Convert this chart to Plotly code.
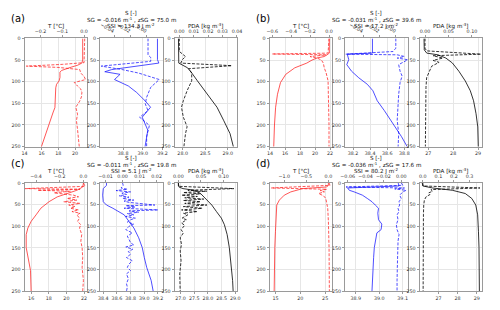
import plotly.graph_objects as go

# ================= DATA =================
# ---- panel (a) ----
a_T_z = [0, 50, 57, 62, 66, 70, 74, 78, 90, 98, 106, 114, 130, 160, 170, 200, 225, 250]
a_T = [20.9, 20.9, 20.8, 20.3, 19.6, 18.9, 18.4, 18.2, 18.2, 18.1, 17.8, 17.7, 17.65, 17.6, 17.4, 16.9, 16.45, 16.0]
a_dT_z = [0, 50, 56, 60, 64, 67, 72, 80, 88, 95, 102, 110, 117, 125, 135, 145, 159, 175, 190, 210, 230, 250]
a_dT = [0.003, 0.002, 0.0, -0.1, -0.265, -0.12, -0.02, -0.015, 0.0, 0.007, -0.045, -0.03, -0.015, -0.01, -0.012, -0.02, -0.038, -0.03, -0.035, -0.03, -0.025, -0.022]
a_S_z = [0, 49, 57, 72, 77, 83, 95, 110, 125, 144, 159, 182, 212, 250]
a_S = [39.149, 39.149, 39.163, 38.685, 38.614, 38.769, 38.713, 38.854, 38.938, 39.023, 39.079, 38.994, 39.051, 39.023]
a_dS_z = [0, 38, 44, 53, 64, 72, 80, 95, 113, 136, 151, 167, 182, 201, 227, 250]
a_dS = [0.0017, 0.0017, 0.005, 0.005, -0.0557, -0.03, -0.01, 0.0155, 0.005, 0.0, -0.0017, 0.0017, -0.0086, 0.0034, 0.0, 0.0]
a_P_z = [0, 57, 68, 77, 98, 129, 159, 189, 220, 250]
a_P = [27.906, 27.913, 28.109, 28.181, 28.326, 28.543, 28.761, 28.906, 29.05, 29.123]
a_dP_z = [0, 30, 42, 49, 57, 63, 70, 80, 98, 121, 144, 159, 182, 204, 220, 250]
a_dP = [0.0, 0.0, 0.0043, 0.0021, 0.001, 0.0364, 0.0064, 0.0086, 0.0086, 0.0054, 0.0028, 0.0015, 0.0028, 0.0054, 0.0043, 0.0032]

# ---- panel (b) ----
b_T_z = [0, 34, 38, 42, 45, 50, 57, 68, 83, 102, 129, 159, 200, 250]
b_T = [21.9, 21.9, 21.6, 21.2, 20.3, 19.6, 18.9, 17.3, 16.1, 15.4, 15.0, 14.75, 14.6, 14.5]
b_dT_z = [0, 30, 34, 36, 38, 42, 46, 50, 57, 68, 80, 98, 130, 200, 250]
b_dT = [0.0, -0.005, -0.01, -0.6, -0.03, -0.2, -0.12, -0.08, -0.06, -0.05, -0.03, -0.01, -0.005, 0.0, 0.0]
b_S_z = [0, 34, 36.4, 49, 60.6, 75.8, 91, 106, 121, 144, 167, 197, 227, 250]
b_S = [38.427, 38.427, 38.133, 38.15, 38.127, 38.183, 38.267, 38.367, 38.433, 38.483, 38.567, 38.667, 38.767, 38.833]
b_dS_z = [0, 22.7, 30.3, 36.4, 37.9, 41.7, 45.5, 49.2, 60.6, 75.8, 87, 102, 129, 159, 189, 220, 250]
b_dS = [0.0, 0.0, -0.0035, -0.061, 0.0017, 0.0104, 0.0017, 0.0146, 0.0035, 0.0052, 0.0077, 0.0052, 0.0035, 0.0028, 0.0017, 0.0035, 0.0028]
b_P_z = [0, 26.5, 34, 37.9, 45.5, 56.8, 75.8, 98.5, 121, 144, 174, 204.5, 250]
b_P = [26.83, 26.84, 26.94, 27.39, 27.71, 27.97, 28.23, 28.49, 28.69, 28.82, 28.92, 28.99, 29.01]
b_dP_z = [0, 22.7, 28.8, 36.4, 40, 45.5, 50.8, 55.3, 64.4, 75.8, 90.9, 113.6, 143.9, 250]
b_dP = [0.0, 0.0, 0.0034, 0.119, 0.017, 0.038, 0.017, 0.03, 0.014, 0.01, 0.0034, 0.002, 0.0014, 0.0007]

# ---- panel (c) ----
c_T_z = [0, 9.1, 16.7, 24, 32, 43, 58, 73.5, 88.6, 104, 119, 149, 172, 202, 250]
c_T = [21.93, 21.85, 21.19, 20.07, 18.96, 18.04, 17.11, 16.56, 16.0, 15.63, 15.44, 15.44, 15.63, 15.93, 16.0]
c_dT_z = [0, 7.6, 12.9, 14.4, 16.7, 18.9, 22.7, 28, 31.8, 35.6, 39.4, 43.2, 47, 50.8, 54.5, 58.3, 62.1, 65.9, 69.7, 73.5, 81.1, 88.6, 96.2, 103.8, 118.9, 134.1, 149.2, 172, 194.7, 225, 250]
c_dT = [0.0, 0.014, -0.492, -0.028, -0.387, -0.11, -0.249, -0.083, -0.041, -0.138, -0.055, -0.166, -0.028, -0.124, -0.069, -0.11, -0.041, -0.097, -0.028, -0.055, -0.033, -0.05, -0.022, -0.033, -0.014, -0.022, -0.011, -0.006, -0.011, 0.0, -0.006]
c_S_z = [0, 5.3, 12.9, 28, 43.2, 50.8, 58.3, 65.9, 73.5, 88.6, 103.8, 126.5, 149.2, 172, 195, 225, 250]
c_S = [38.447, 38.447, 38.4, 38.391, 38.4, 38.447, 38.541, 38.635, 38.706, 38.776, 38.847, 38.918, 38.97, 39.0, 39.035, 39.1, 39.13]
c_dS_z = [0, 5.3, 11.4, 14.4, 17.4, 20.5, 23.5, 26.5, 29.5, 32.6, 35.6, 39.4, 41.7, 44.7, 50.8, 52.3, 55.3, 58.3, 62.1, 64.4, 67.4, 70.5, 73.5, 77.3, 81.1, 84.8, 90.2, 94.7, 100, 107.6, 115.2, 122.7, 130.3, 137.9, 143.2, 147.7, 153, 158.3, 164.4, 172, 179.5, 187.1, 194.7, 202.3, 209.8, 221.2, 232.6, 240.2, 250]
c_dS = [0.0, 0.0004, -0.0009, 0.0028, -0.0038, 0.0047, -0.0004, 0.0023, -0.0019, 0.0038, 0.0, 0.0066, 0.0009, 0.0038, 0.0189, 0.0019, 0.0075, 0.0009, 0.0208, 0.0038, 0.0094, 0.0028, 0.0066, 0.0019, 0.0075, 0.0047, 0.0028, 0.0066, 0.0038, 0.0019, 0.0057, 0.0028, 0.0038, 0.0047, 0.0066, 0.0019, 0.006, 0.0034, 0.0047, 0.0023, 0.0057, 0.0038, 0.0028, 0.0047, 0.0023, 0.0034, 0.0023, 0.0028, 0.0023]
c_P_z = [0, 9.1, 12.9, 16.7, 24.2, 35.6, 50.8, 65.9, 81.1, 96.2, 118.9, 149.2, 187.1, 225, 250]
c_P = [26.92, 26.94, 27.09, 27.5, 27.73, 27.91, 28.14, 28.31, 28.49, 28.6, 28.7, 28.78, 28.85, 28.9, 28.92]
c_dP_z = [0, 7.6, 12.9, 16.7, 18.9, 22, 25, 28, 31.1, 34.1, 37.1, 40.2, 43.2, 47, 50.8, 54.5, 58.3, 62.1, 65.9, 69.7, 73.5, 81.1, 84.8, 92.4, 97.7, 107.6, 115.2, 126.5, 141.7, 156.8, 179.5, 209.8, 250]
c_dP = [0.0, 0.0, 0.123, 0.021, 0.063, 0.011, 0.049, 0.007, 0.042, 0.014, 0.056, 0.011, 0.049, 0.014, 0.063, 0.011, 0.053, 0.007, 0.042, 0.011, 0.021, 0.008, 0.018, 0.007, 0.014, 0.006, 0.011, 0.004, 0.007, 0.004, 0.006, 0.003, 0.004]

# ---- panel (d) ----
d_T_z = [0, 5.3, 9.1, 12.9, 15.2, 20.5, 28, 39.4, 50.8, 73.5, 111.4, 149.2, 250]
d_T = [25.66, 25.66, 25.33, 20.39, 19.74, 18.09, 16.78, 15.79, 15.26, 15.13, 15.0, 14.87, 14.74]
d_dT_z = [0, 5.3, 11.4, 14.4, 17.4, 20.5, 24.2, 29.5, 35.6, 47, 58.3, 88.6, 149.2, 250]
d_dT = [0.015, 0.037, -1.296, -0.037, -0.185, -0.089, -0.222, -0.111, -0.059, -0.037, -0.015, 0.0, 0.015, 0.022]
d_S_z = [0, 6.8, 11.4, 16.7, 20.5, 28, 35.6, 43.2, 50.8, 58.3, 69.7, 84.8, 94.7, 107.6, 115.2, 134.1, 149.2, 172, 202.3, 225, 250]
d_S = [39.081, 39.085, 38.865, 38.872, 38.893, 38.928, 38.949, 38.969, 38.983, 38.997, 38.994, 38.997, 39.011, 39.008, 38.99, 38.983, 38.979, 38.976, 38.974, 38.971, 38.969]
d_dS_z = [0, 5.3, 9.1, 11.4, 13.6, 16.7, 20.5, 28, 35.6, 43.2, 50.8, 58.3, 65.9, 73.5, 84.8, 96.2, 107.6, 118.9, 134.1, 164.4, 194.7, 225, 250]
d_dS = [0.0, 0.0018, -0.0618, 0.0036, -0.0073, 0.0055, 0.0018, -0.0018, 0.0, -0.0025, -0.0018, -0.0036, -0.0025, -0.0047, -0.0036, -0.0055, -0.0047, -0.0025, -0.0036, -0.0036, -0.0044, -0.0047, -0.0047]
d_P_z = [0, 6.8, 11.4, 16.7, 24.2, 35.6, 50.8, 73.5, 111.4, 149.2, 250]
d_P = [26.15, 26.18, 26.69, 27.72, 28.4, 28.74, 28.95, 29.05, 29.09, 29.12, 29.14]
d_dP_z = [0, 6.8, 11.4, 15.2, 18.9, 22.7, 26.5, 31.8, 39.4, 50.8, 73.5, 250]
d_dP = [0.0, 0.002, 0.367, 0.052, 0.063, 0.038, 0.046, 0.021, 0.01, 0.006, 0.004, 0.002]

# ---- texts ----
panel_letters = ["(a)", "(b)", "(c)", "(d)"]
sg_texts = ["SG = -0.016 m<sup>-1</sup> , zSG = 75.0 m",
            "SG = -0.031 m<sup>-1</sup> , zSG = 39.6 m",
            "SG = -0.011 m<sup>-1</sup> , zSG = 19.8 m",
            "SG = -0.036 m<sup>-1</sup> , zSG = 17.6 m"]
ssi_texts = ["SSI = 134.3 J m<sup>-2</sup>", "SSI = 17.2 J m<sup>-2</sup>",
             "SSI = 5.1 J m<sup>-2</sup>", "SSI = 80.2 J m<sup>-2</sup>"]
t_title = "T [°C]"
p_title = "PDA [kg m<sup>-3</sup>]"
s_label = "S [-]"

depth_ticks = [0, 50, 100, 150, 200, 250]

# tick values per panel: [T bottom, T top, S bottom, S top, P bottom, P top]
a_ticks = [[14, 16, 18, 20], [-0.2, -0.1, 0.0], [38.8, 39.0, 39.2], [-0.04, -0.02, 0.0], [28.0, 28.5, 29.0], [0.0, 0.01, 0.02, 0.03, 0.04]]
b_ticks = [[14, 16, 18, 20, 22], [-0.6, -0.4, -0.2, 0.0], [38.2, 38.4, 38.6, 38.8], [-0.04, -0.02, 0.0], [27, 28, 29], [0.0, 0.05, 0.10]]
c_ticks = [[16, 18, 20, 22], [-0.4, -0.2, 0.0], [38.4, 38.6, 38.8, 39.0, 39.2], [-0.01, 0.0, 0.01, 0.02], [27.0, 27.5, 28.0, 28.5, 29.0], [0.0, 0.05, 0.10]]
d_ticks = [[15, 20, 25], [-1.0, -0.5, 0.0], [38.9, 39.0, 39.1], [-0.06, -0.04, -0.02, 0.0], [27, 28, 29], [0.0, 0.1, 0.2, 0.3]]
a_fmt = [".0f", ".1f", ".1f", ".2f", ".1f", ".2f"]
b_fmt = [".0f", ".1f", ".1f", ".2f", ".0f", ".2f"]
c_fmt = [".0f", ".1f", ".1f", ".2f", ".1f", ".2f"]
d_fmt = [".0f", ".1f", ".1f", ".2f", ".0f", ".1f"]

# axis ranges [T bottom, T top, S bottom, S top, P bottom, P top]
a_rng = [[14.0, 21.45], [-0.273, 0.015], [38.566, 39.203], [-0.0571, 0.0198], [27.819, 29.21], [-0.0033, 0.0402]]
b_rng = [[13.95, 22.3], [-0.628, 0.035], [38.107, 38.84], [-0.0619, 0.0146], [26.65, 29.17], [-0.0117, 0.122]]
c_rng = [[15.26, 22.37], [-0.497, 0.033], [38.353, 39.27], [-0.0132, 0.0236], [26.78, 29.07], [-0.0085, 0.1303]]
d_rng = [[13.82, 26.45], [-1.333, 0.089], [38.854, 39.122], [-0.0629, 0.0073], [26.008, 29.29], [-0.021, 0.382]]

# ================= FIGURE =================
W, H = 500, 310
COL_X = [(20, 84), (97, 161), (173, 237)]
ROW_Y = [(37, 147), (184, 294)]
PANEL_OFF = [(0, 0), (250, 0), (0, 1), (250, 1)]
COLORS = ["rgba(255,30,30,0.75)", "rgba(20,20,255,0.75)", "rgba(0,0,0,0.8)"]
FONT = "DejaVu Sans"
TICKC = "#333"
GRID = "#e6e6e6"
SPINE = "#9a9a9a"
HEAD = 5.6

panels = [
    dict(data=[(a_T_z, a_T, a_dT_z, a_dT), (a_S_z, a_S, a_dS_z, a_dS), (a_P_z, a_P, a_dP_z, a_dP)], ticks=a_ticks, fmt=a_fmt, rng=a_rng),
    dict(data=[(b_T_z, b_T, b_dT_z, b_dT), (b_S_z, b_S, b_dS_z, b_dS), (b_P_z, b_P, b_dP_z, b_dP)], ticks=b_ticks, fmt=b_fmt, rng=b_rng),
    dict(data=[(c_T_z, c_T, c_dT_z, c_dT), (c_S_z, c_S, c_dS_z, c_dS), (c_P_z, c_P, c_dP_z, c_dP)], ticks=c_ticks, fmt=c_fmt, rng=c_rng),
    dict(data=[(d_T_z, d_T, d_dT_z, d_dT), (d_S_z, d_S, d_dS_z, d_dS), (d_P_z, d_P, d_dP_z, d_dP)], ticks=d_ticks, fmt=d_fmt, rng=d_rng),
]

fig = go.Figure()
layout = {}
annotations = []
tickfont = dict(family=FONT, size=4.8, color=TICKC)

def ax(n, kind):
    return (kind if n == 1 else kind + str(n))

k = 0
for p, pan in enumerate(panels):
    xo, row = PANEL_OFF[p]
    y0, y1 = ROW_Y[row]
    ydom = [1 - y1 / H, 1 - y0 / H]
    for c in range(3):
        k += 1
        xb, xt, yn = 2 * k - 1, 2 * k, k
        x0, x1 = COL_X[c]
        xdom = [(x0 + xo) / W, (x1 + xo) / W]
        zs, vs, zd, vd = pan["data"][c]
        fig.add_trace(go.Scatter(x=vs, y=zs, mode="lines", xaxis=ax(xb, "x"), yaxis=ax(yn, "y"),
                                 line=dict(color=COLORS[c], width=1), showlegend=False, hoverinfo="skip"))
        fig.add_trace(go.Scatter(x=vd, y=zd, mode="lines", xaxis=ax(xt, "x"), yaxis=ax(yn, "y"),
                                 line=dict(color=COLORS[c], width=1, dash="3px,1.5px"), showlegend=False, hoverinfo="skip"))
        layout[ax(xb, "xaxis")] = dict(domain=xdom, anchor=ax(yn, "y"), side="bottom",
                                       range=pan["rng"][2 * c], tickvals=pan["ticks"][2 * c],
                                       tickformat=pan["fmt"][2 * c], tickfont=tickfont,
                                       showgrid=True, gridcolor=GRID, gridwidth=1,
                                       showline=True, linecolor=SPINE, linewidth=1, mirror=False,
                                       ticks="outside", ticklen=2, tickcolor=SPINE, zeroline=False)
        layout[ax(xt, "xaxis")] = dict(overlaying=ax(xb, "x"), anchor=ax(yn, "y"), side="top",
                                       range=pan["rng"][2 * c + 1], tickvals=pan["ticks"][2 * c + 1],
                                       tickformat=pan["fmt"][2 * c + 1], tickfont=tickfont,
                                       showgrid=False, showline=True, linecolor=SPINE, linewidth=1,
                                       ticks="outside", ticklen=2, tickcolor=SPINE, zeroline=False)
        layout[ax(yn, "yaxis")] = dict(domain=ydom, anchor=ax(xb, "x"), range=[250, 0],
                                       tickvals=depth_ticks, tickfont=tickfont,
                                       showgrid=True, gridcolor=GRID, gridwidth=1,
                                       showline=True, linecolor=SPINE, linewidth=1, mirror=True,
                                       ticks="outside", ticklen=2, tickcolor=SPINE, zeroline=False)
        title = [t_title, ssi_texts[p], p_title][c]
        annotations.append(dict(text=title, x=(x0 + x1) / 2 / W + xo / W, y=1 - (y0 - 12.5) / H,
                                xref="paper", yref="paper", showarrow=False,
                                font=dict(family=FONT, size=HEAD, color="#111"),
                                xanchor="center", yanchor="middle"))
    cx = (COL_X[1][0] + COL_X[1][1]) / 2 + xo
    annotations.append(dict(text=s_label, x=cx / W, y=1 - (y0 - 25.8) / H, xref="paper", yref="paper",
                            showarrow=False, font=dict(family=FONT, size=HEAD, color="#111"),
                            xanchor="center", yanchor="middle"))
    annotations.append(dict(text=sg_texts[p], x=cx / W, y=1 - (y0 - 19) / H, xref="paper", yref="paper",
                            showarrow=False, font=dict(family=FONT, size=HEAD, color="#111"),
                            xanchor="center", yanchor="middle"))
    annotations.append(dict(text=panel_letters[p], x=(4 + xo) / W, y=1 - (y0 - 20) / H, xref="paper", yref="paper",
                            showarrow=False, font=dict(family=FONT, size=10, color="#000"),
                            xanchor="left", yanchor="middle"))

fig.update_layout(width=W, height=H, margin=dict(l=0, r=0, t=0, b=0),
                  paper_bgcolor="white", plot_bgcolor="white",
                  annotations=annotations, **layout)
fig.write_html("out.html", config={"displayModeBar": False, "staticPlot": True},
               post_script="document.body.style.margin='0';document.body.style.overflow='hidden';")
